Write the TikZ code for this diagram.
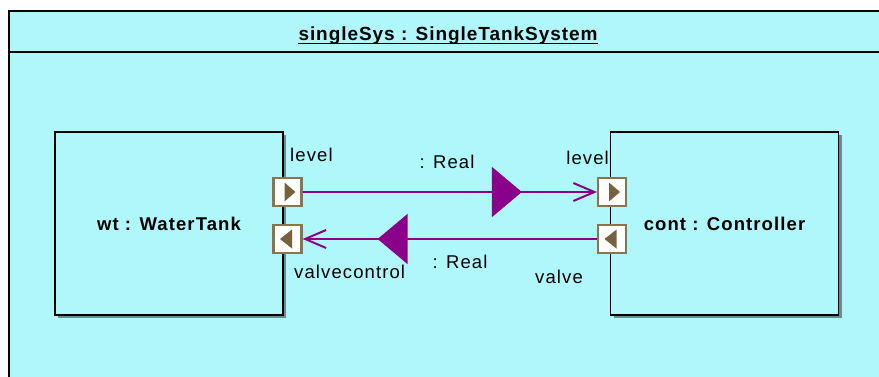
\documentclass[tikz,border=0pt]{standalone}
\usepackage{fontspec}
\setmainfont{Liberation Sans}
\usepackage{tikz}
\usetikzlibrary{arrows.meta, positioning, shadows, decorations.markings}
\definecolor{sysfill}{RGB}{176,247,252}
\definecolor{flowcolor}{RGB}{139,0,139}
\definecolor{portcolor}{RGB}{140,115,75}
\definecolor{shadecolor}{RGB}{105,140,145}

\begin{document}
\begin{tikzpicture}[
    x=1pt, y=-1pt,
    block/.style={rectangle, draw=black, line width=1.5pt, fill=sysfill,
                  minimum width=228pt, minimum height=183pt,
                  drop shadow={shadow xshift=3pt, shadow yshift=-3pt, opacity=1, fill=shadecolor},
                  font=\fontsize{18.5}{22}\selectfont\bfseries\addfontfeature{LetterSpace=6}},
    lbl/.style={inner sep=0pt, font=\fontsize{18.5}{22}\selectfont\addfontfeature{LetterSpace=6}},
    portbox/.style={rectangle, draw=portcolor, line width=2.2pt, fill=white,
                  minimum size=28pt, inner sep=0pt},
    portout/.style={portbox, path picture={
        \fill[portcolor!85!black] ([xshift=-3pt,yshift=9.5pt]path picture bounding box.center)
            -- ([xshift=8pt]path picture bounding box.center)
            -- ([xshift=-3pt,yshift=-9.5pt]path picture bounding box.center) -- cycle;}},
    portin/.style={portbox, path picture={
        \fill[portcolor!85!black] ([xshift=4.5pt,yshift=9.5pt]path picture bounding box.center)
            -- ([xshift=-7.5pt]path picture bounding box.center)
            -- ([xshift=4.5pt,yshift=-9.5pt]path picture bounding box.center) -- cycle;}},
    flow/.style={color=flowcolor, line width=2pt, -{Straight Barb[length=21pt, width=18pt]},
                  postaction={decorate},
                  decoration={markings, mark=at position 0.745 with {\arrow{Triangle[length=30pt, width=50pt]}}}}
]
\useasboundingbox (0,0) rectangle (879,376);
\fill[white] (0,0) rectangle (879,376);
\clip (0,0) rectangle (879,376);

% system frame
\filldraw[fill=sysfill, draw=black, line width=1.2pt] (9,11) rectangle (900,400);
\draw[line width=2.5pt] (9,52) -- (900,52);
\node[inner sep=0pt, anchor=base, font=\fontsize{19}{22}\selectfont\bfseries\addfontfeature{LetterSpace=5}] (title) at (448,40) {singleSys : SingleTankSystem};
\draw[line width=1.6pt] ([yshift=-3.5pt]title.base west) -- ([yshift=-3.5pt]title.base east);

% parts
\node[block] (wt) at (169,223.5) {wt : WaterTank};
\node[block] (cont) at (724.5,223.5) {cont : Controller};

% ports
\node[portout] (wtlevel) at (287.5,192) {};
\node[portin] (wtvalve) at (287.5,239) {};
\node[portout] (contlevel) at (612,192) {};
\node[portin] (contvalve) at (612,239) {};

\node[lbl, anchor=base west] (wtlevellbl) at (290,161) {level};
\node[lbl, anchor=base west] (wtvalvelbl) at (294,278) {valvecontrol};
\node[lbl, anchor=base east] (contlevellbl) at (609,164) {level};
\node[lbl, anchor=base] (contvalvelbl) at (559,283) {valve};

% connectors
\draw[flow] (wtlevel.east) -- (contlevel.west);
\draw[flow] (contvalve.west) -- (wtvalve.east);
\node[lbl, anchor=base] (leveltype) at (447,168) {: Real};
\node[lbl, anchor=base] (valvetype) at (460,268) {: Real};
\end{tikzpicture}
\end{document}
